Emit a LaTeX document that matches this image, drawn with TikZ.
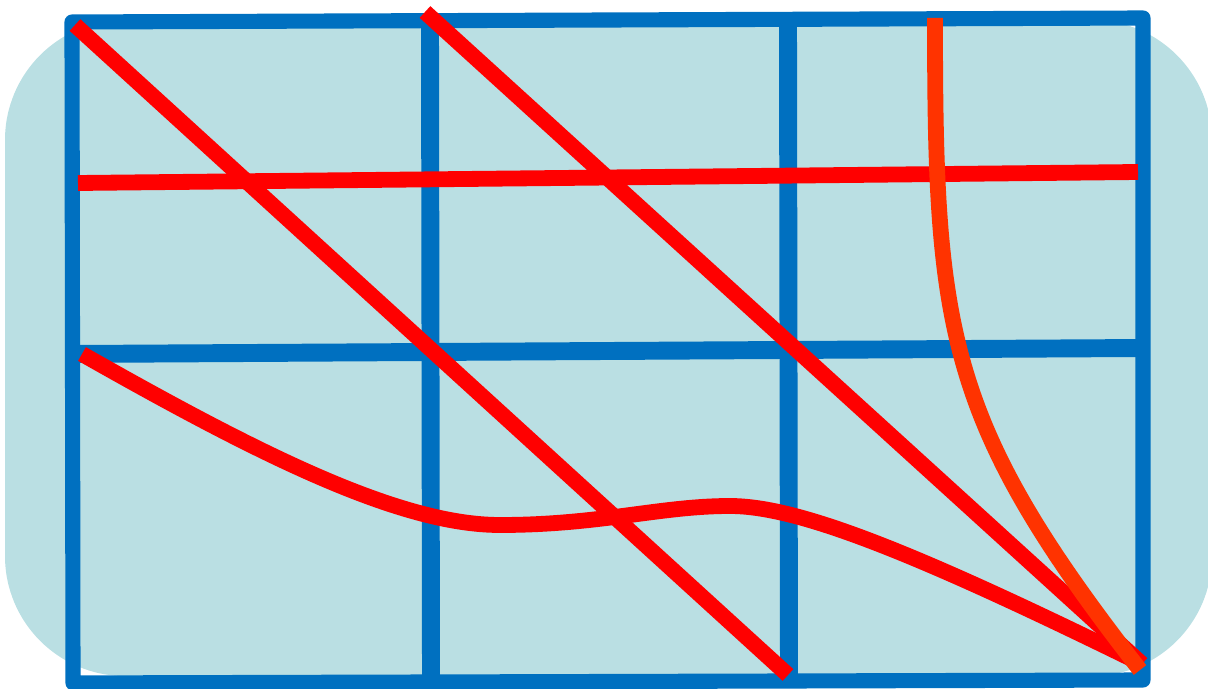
\documentclass[tikz,border=0pt]{standalone}
\usepackage{xcolor}
\definecolor{padfill}{HTML}{BADFE3}
\definecolor{gridblue}{HTML}{0070C0}
\definecolor{cutred}{HTML}{FF0000}
\definecolor{cutorange}{HTML}{FF3300}

\begin{document}
\begin{tikzpicture}[
  x=0.02cm, y=-0.02cm,
  pad/.style={fill=padfill, draw=none, rounded corners=2.4cm},
  gridline/.style={draw=gridblue, line width=8.6pt, line join=round, line cap=round},
  innerline/.style={gridline, line width=10.2pt, line cap=butt},
  cut/.style={draw=cutred, line width=9pt, line cap=butt},
  arcline/.style={draw=cutorange, line width=9pt, line cap=butt}
]
\useasboundingbox (0,0) rectangle (1208,689);

%% --- Background pad ---
\path[pad] (5,20) rectangle (1212,676);

%% --- Blue grid ---
\coordinate (tl) at (72,22);
\coordinate (tr) at (1143,18);
\coordinate (br) at (1143,680);
\coordinate (bl) at (73,683);
\draw[gridline] (tl) -- (tr) -- (br) -- (bl) -- cycle;
\draw[innerline] (72,354) -- (1143,348);
\draw[innerline] (430,22) -- (431,682);
\draw[innerline] (788,20) -- (789,681);

%% --- Red cuts ---
\coordinate (corner) at (1142,664);
\draw[cut] (75,25) -- (788,675);
\draw[cut] (425,12) -- (corner);
\draw[cut] (78,183) -- (1138,172);
\draw[cut] (82,354) .. controls (260,455) and (400,525) .. (500,525)
  .. controls (600,525) and (660,506) .. (730,506)
  .. controls (800,506) and (920,555) .. (corner);

%% --- Orange arc ---
\draw[arcline] (935,18) .. controls (935,330) and (945,420) .. (1140,670);
\end{tikzpicture}
\end{document}
